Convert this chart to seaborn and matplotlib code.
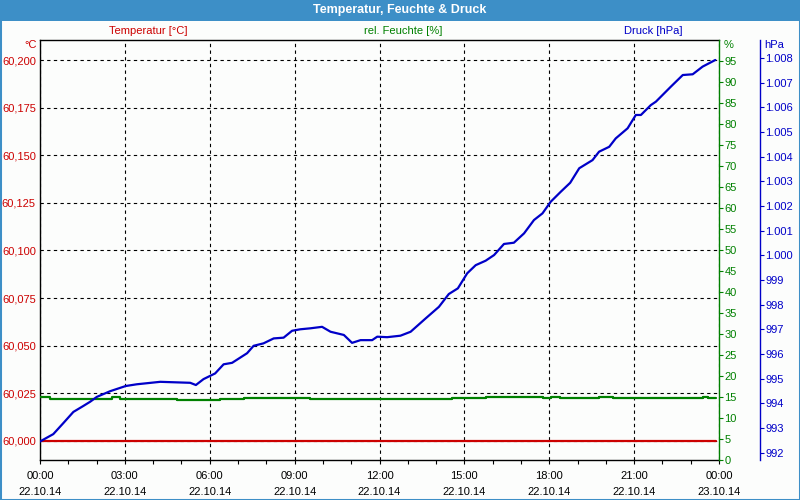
import matplotlib
matplotlib.use("Agg")
import matplotlib.pyplot as plt
import matplotlib.ticker as mticker
from matplotlib.patches import Rectangle
import seaborn as sns

# data (hours since 22.10.14 00:00)
temp_t = [0, 23.9]
temp_v = [60.000, 60.000]

hum_t = [0, 0.35, 2.54, 2.83, 4.84, 6.37, 7.2, 8.61, 8.91, 9.56, 14.58, 15.75,
         17.77, 18.05, 18.37, 19.75, 20.25, 23.43, 23.61, 23.9]
hum_v = [14.9, 14.6, 14.9, 14.6, 14.35, 14.6, 14.8, 14.7, 14.8, 14.6, 14.75, 15.05,
         14.75, 15.05, 14.75, 15.05, 14.75, 15.05, 14.75, 14.75]

press_t = [0, 0.47, 0.82, 1.18, 1.53, 1.77, 2.01, 2.48, 3.03, 3.42, 4.25, 5.31,
           5.51, 5.78, 6.19, 6.49, 6.79, 7.32, 7.55, 7.9, 8.26, 8.61, 8.91, 9.2,
           9.56, 9.97, 10.27, 10.74, 11.03, 11.33, 11.74, 11.92, 12.27, 12.74, 13.1,
           13.63, 14.1, 14.45, 14.77, 15.1, 15.4, 15.75, 16.05, 16.4, 16.75, 17.11,
           17.46, 17.76, 18.05, 18.41, 18.74, 19.06, 19.53, 19.76, 20.12, 20.35,
           20.77, 21.06, 21.24, 21.59, 21.77, 22.3, 22.72, 23.07, 23.42, 23.87]
press_v = [992.45, 992.75, 993.19, 993.65, 993.89, 994.06, 994.26, 994.49, 994.70,
           994.77, 994.87, 994.83, 994.74, 994.98, 995.21, 995.58, 995.64, 996.03,
           996.33, 996.43, 996.63, 996.66, 996.94, 997.00, 997.04, 997.10, 996.90,
           996.77, 996.45, 996.56, 996.56, 996.70, 996.68, 996.74, 996.90, 997.44,
           997.91, 998.43, 998.66, 999.27, 999.60, 999.78, 1000.01, 1000.46, 1000.51,
           1000.89, 1001.43, 1001.70, 1002.17, 1002.58, 1002.94, 1003.53, 1003.86,
           1004.20, 1004.40, 1004.74, 1005.15, 1005.69, 1005.69, 1006.09, 1006.23,
           1006.84, 1007.31, 1007.34, 1007.65, 1007.92]

x_labels = ["00:00\n22.10.14", "03:00\n22.10.14", "06:00\n22.10.14", "09:00\n22.10.14",
            "12:00\n22.10.14", "15:00\n22.10.14", "18:00\n22.10.14", "21:00\n22.10.14",
            "00:00\n23.10.14"]

RED = "#cc0000"
GREEN = "#008000"
BLUE = "#0000c8"
BAR = "#3d8fc7"
BG = "#fcfdfc"

sns.set_style("white")
plt.rcParams["font.family"] = ["Liberation Sans", "DejaVu Sans"]
plt.rcParams["font.size"] = 8

fig = plt.figure(figsize=(8, 5), dpi=100, facecolor=BG)
ax = fig.add_axes([40 / 800, 40 / 500, 679 / 800, 420 / 500])
ax.set_facecolor(BG)
ax2 = ax.twinx()
ax3 = ax.twinx()

# lines
sns.lineplot(x=temp_t, y=temp_v, ax=ax, color=RED, linewidth=1.6)
sns.lineplot(x=hum_t, y=hum_v, ax=ax2, color=GREEN, linewidth=1.6, drawstyle="steps-post")
sns.lineplot(x=press_t, y=press_v, ax=ax3, color=BLUE, linewidth=1.6)

# x axis
ax.set_xlim(0, 24)
ax.set_xticks(range(0, 25, 3))
ax.set_xticklabels(x_labels)
ax.xaxis.set_minor_locator(mticker.MultipleLocator(1))
ax.tick_params(axis="x", which="both", direction="out", length=3, width=0.8,
               colors="black", pad=5, bottom=True)
for t in ax.xaxis.get_major_ticks():
    t.label1.set_linespacing(1.7)

# temperature axis
ax.set_ylim(59.990, 60.2105)
temp_ticks = [60.000, 60.025, 60.050, 60.075, 60.100, 60.125, 60.150, 60.175, 60.200]
ax.set_yticks(temp_ticks)
ax.set_yticklabels([f"{v:.3f}".replace(".", ",") for v in temp_ticks])
ax.tick_params(axis="y", length=0, pad=3, labelcolor=RED)
ax.grid(True, axis="both", color="black", linestyle=(0, (3, 3)), linewidth=0.8)
ax.set_axisbelow(True)
ax.set_xlabel("")
ax.set_ylabel("")
for s in ["left", "top", "bottom"]:
    ax.spines[s].set_color("black")
    ax.spines[s].set_linewidth(1)
ax.spines["right"].set_visible(False)

# humidity axis
ax2.set_ylim(0, 100)
ax2.set_yticks(range(0, 100, 5))
ax2.tick_params(axis="y", direction="out", length=3, width=0.8, colors=GREEN, pad=1)
ax2.spines["right"].set_color(GREEN)
ax2.spines["right"].set_linewidth(1)
for s in ["left", "top", "bottom"]:
    ax2.spines[s].set_visible(False)
ax2.set_ylabel("")

# pressure axis (41 px to the right of the plot)
ax3.set_ylim(991.70, 1008.73)
ax3.set_yticks(range(992, 1009))
ax3.yaxis.set_major_formatter(
    mticker.FuncFormatter(lambda v, p: f"{int(round(v)):,}".replace(",", ".")))
ax3.spines["right"].set_position(("outward", 41 * 0.72))
ax3.spines["right"].set_color(BLUE)
ax3.spines["right"].set_linewidth(1)
for s in ["left", "top", "bottom"]:
    ax3.spines[s].set_visible(False)
ax3.tick_params(axis="y", direction="out", length=3, width=0.8, colors=BLUE, pad=1)
ax3.set_ylabel("")

# title bar and border
fig.patches.append(Rectangle((0, 1 - 21 / 500), 1, 21 / 500, transform=fig.transFigure,
                             facecolor=BAR, edgecolor="none", zorder=0))
fig.patches.append(Rectangle((0, 0), 1, 1, transform=fig.transFigure,
                             facecolor="none", edgecolor=BAR, linewidth=2.2, zorder=5))
fig.text(0.5, 1 - 10.5 / 500, "Temperatur, Feuchte & Druck", color="white",
         fontsize=9, weight="bold", ha="center", va="center")

# series captions
fig.text(148 / 800, 1 - 31 / 500, "Temperatur [°C]", color=RED, ha="center", va="center")
fig.text(403 / 800, 1 - 31 / 500, "rel. Feuchte [%]", color=GREEN, ha="center", va="center")
fig.text(653 / 800, 1 - 31 / 500, "Druck [hPa]", color=BLUE, ha="center", va="center")

# unit labels
fig.text(37 / 800, 1 - 45 / 500, "°C", color=RED, ha="right", va="center")
fig.text(724 / 800, 1 - 45 / 500, "%", color=GREEN, ha="left", va="center")
fig.text(764 / 800, 1 - 45 / 500, "hPa", color=BLUE, ha="left", va="center")

fig.savefig("out.png", dpi=100, facecolor=BG)
